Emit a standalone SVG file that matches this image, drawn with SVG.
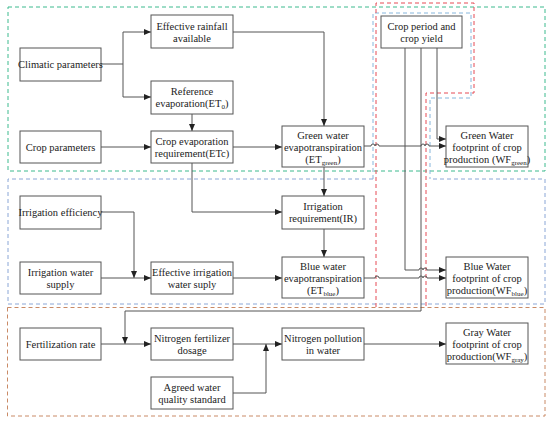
<svg xmlns="http://www.w3.org/2000/svg" width="550" height="423" viewBox="0 0 550 423">
<style>
.box{fill:#fff;stroke:#555;stroke-width:1}
.t{font-family:"Liberation Serif","Times New Roman",serif;font-size:10.5px;fill:#222;text-anchor:middle}
.sub{font-size:7px}
.c{fill:none;stroke:#555;stroke-width:1}
.a{marker-end:url(#arr)}
.dg{fill:none;stroke:#3dba8e;stroke-width:1;stroke-dasharray:4 3}
.db{fill:none;stroke:#8aa6d6;stroke-width:1;stroke-dasharray:4 3}
.dbl{fill:none;stroke:#86b6dc;stroke-width:1;stroke-dasharray:4 3}
.dr{fill:none;stroke:#e64b55;stroke-width:1;stroke-dasharray:4 3}
.dbr{fill:none;stroke:#c98a66;stroke-width:1;stroke-dasharray:4 3}
</style>
<defs>
<marker id="arr" markerWidth="7" markerHeight="6" refX="7" refY="3" orient="auto" markerUnits="userSpaceOnUse">
<path d="M0,0 L7,3 L0,6 Z" fill="#222"/>
</marker>
</defs>
<rect width="550" height="423" fill="#fff"/>
<g id="regions">
<rect class="dg" x="8" y="7" width="537" height="164"/>
<path class="db" d="M373,179 H8 V304 H545 V179 H430"/>
<path class="dbl" d="M373,179 V13 H471 V98 H430 V179"/>
<rect class="dbr" x="7.5" y="307.5" width="537.5" height="108.5"/>
<path class="dr" d="M376,307 V3 H474 V93 H426 V307"/>
</g>
<g id="connectors">
<path class="c" d="M101,64 H123"/>
<path class="c a" d="M123,32 H151"/>
<path class="c a" d="M123,97 H151"/>
<path class="c" d="M123,32 V97"/>
<path class="c a" d="M233,32 H324 V126"/>
<path class="c a" d="M192,114 V131"/>
<path class="c a" d="M101,147 H151"/>
<path class="c a" d="M233,147 H282"/>
<path class="c a" d="M364,146 H371 a2,2 0 0 1 4,0 a2,2 0 0 1 4,0 H421 a2,2 0 0 1 4,0 a2,2 0 0 1 4,0 H446"/>
<path class="c a" d="M437,48 V139 H446"/>
<path class="c a" d="M405,48 V270 H419 a2,2 0 0 1 4,0 a2,2 0 0 1 4,0 H446"/>
<path class="c" d="M421,48 V311 H125"/>
<path class="c a" d="M125,311 V344"/>
<path class="c a" d="M192,163 V212 H282"/>
<path class="c a" d="M324,167 V196"/>
<path class="c a" d="M324,229 V257"/>
<path class="c" d="M101,212 H134"/>
<path class="c a" d="M134,212 V278"/>
<path class="c a" d="M101,278 H151"/>
<path class="c a" d="M233,278 H282"/>
<path class="c a" d="M364,278 H375 a2,2 0 0 1 4,0 H419 a2,2 0 0 1 4,0 a2,2 0 0 1 4,0 H446"/>
<path class="c a" d="M101,344 H151"/>
<path class="c a" d="M233,344 H282"/>
<path class="c a" d="M233,393 H266 V344"/>
<path class="c a" d="M364,344 H446"/>
</g>
<g id="climatic"><rect class="box" x="20" y="48" width="81" height="33"/><text class="t" x="60.5" y="67.5">Climatic parameters</text></g>
<g id="rainfall"><rect class="box" x="151" y="15" width="82" height="33"/><text class="t" x="192" y="29.5">Effective rainfall</text><text class="t" x="192" y="41.5">available</text></g>
<g id="reference"><rect class="box" x="151" y="81" width="82" height="33"/><text class="t" x="192" y="94.5">Reference</text><text class="t" x="192" y="106.5">evaporation(ET<tspan class="sub" dy="2">0</tspan><tspan dy="-2">)</tspan></text></g>
<g id="cropparam"><rect class="box" x="20" y="131" width="81" height="32"/><text class="t" x="60.5" y="150.5">Crop parameters</text></g>
<g id="cropevap"><rect class="box" x="151" y="131" width="82" height="32"/><text class="t" x="192" y="144.5">Crop evaporation</text><text class="t" x="192" y="156.5">requirement(ETc)</text></g>
<g id="greenet"><rect class="box" x="282" y="126" width="82" height="41"/><text class="t" x="323" y="138.5">Green water</text><text class="t" x="323" y="150.5">evapotranspiration</text><text class="t" x="323" y="162.5">(ET<tspan class="sub" dy="2">green</tspan><tspan dy="-2">)</tspan></text></g>
<g id="cropperiod"><rect class="box" x="381" y="16" width="81" height="32"/><text class="t" x="421.5" y="29.5">Crop period and</text><text class="t" x="421.5" y="41.5">crop yield</text></g>
<g id="greenwf"><rect class="box" x="446" y="126" width="82" height="41"/><text class="t" x="487" y="138.5">Green Water</text><text class="t" x="487" y="150.5">footprint of crop</text><text class="t" x="487" y="162.5">production (WF<tspan class="sub" dy="2">green</tspan><tspan dy="-2">)</tspan></text></g>
<g id="irreff"><rect class="box" x="20" y="196" width="81" height="33"/><text class="t" x="60.5" y="215.5">Irrigation efficiency</text></g>
<g id="irrsupply"><rect class="box" x="20" y="262" width="81" height="32"/><text class="t" x="60.5" y="275.5">Irrigation water</text><text class="t" x="60.5" y="287.5">supply</text></g>
<g id="effirr"><rect class="box" x="151" y="262" width="82" height="32"/><text class="t" x="192" y="275.5">Effective irrigation</text><text class="t" x="192" y="287.5">water suply</text></g>
<g id="irrreq"><rect class="box" x="282" y="196" width="82" height="33"/><text class="t" x="323" y="209.5">Irrigation</text><text class="t" x="323" y="221.5">requirement(IR)</text></g>
<g id="blueet"><rect class="box" x="282" y="257" width="82" height="41"/><text class="t" x="323" y="269.5">Blue water</text><text class="t" x="323" y="281.5">evapotranspiration</text><text class="t" x="323" y="293.5">(ET<tspan class="sub" dy="2">blue</tspan><tspan dy="-2">)</tspan></text></g>
<g id="bluewf"><rect class="box" x="446" y="257" width="82" height="41"/><text class="t" x="487" y="269.5">Blue Water</text><text class="t" x="487" y="281.5">footprint of crop</text><text class="t" x="487" y="293.5">production(WF<tspan class="sub" dy="2">blue</tspan><tspan dy="-2">)</tspan></text></g>
<g id="fertrate"><rect class="box" x="20" y="328" width="81" height="32"/><text class="t" x="60.5" y="347.5">Fertilization rate</text></g>
<g id="nfert"><rect class="box" x="151" y="328" width="82" height="32"/><text class="t" x="192" y="341.5">Nitrogen fertilizer</text><text class="t" x="192" y="353.5">dosage</text></g>
<g id="agreed"><rect class="box" x="151" y="377" width="82" height="32"/><text class="t" x="192" y="390.5">Agreed water</text><text class="t" x="192" y="402.5">quality standard</text></g>
<g id="npollution"><rect class="box" x="282" y="328" width="82" height="32"/><text class="t" x="323" y="341.5">Nitrogen pollution</text><text class="t" x="323" y="353.5">in water</text></g>
<g id="graywf"><rect class="box" x="446" y="323" width="82" height="41"/><text class="t" x="487" y="335.5">Gray Water</text><text class="t" x="487" y="347.5">footprint of crop</text><text class="t" x="487" y="359.5">production(WF<tspan class="sub" dy="2">gray</tspan><tspan dy="-2">)</tspan></text></g>
</svg>
